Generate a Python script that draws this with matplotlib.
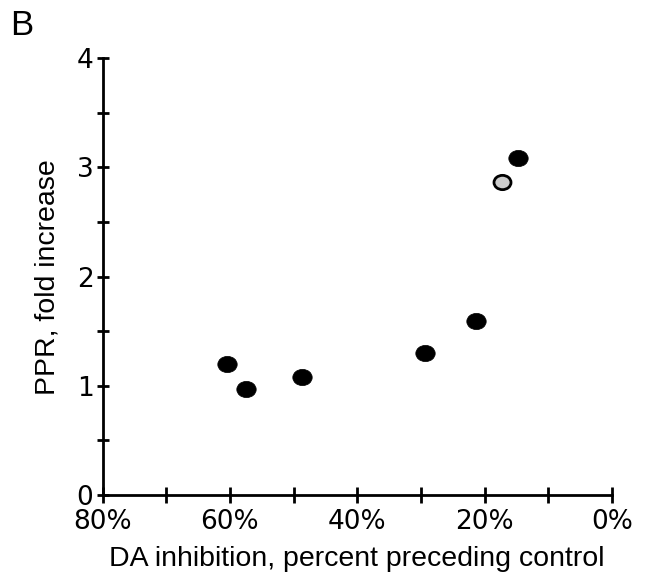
import matplotlib
matplotlib.use("Agg")
import matplotlib.pyplot as plt
from matplotlib.path import Path
from matplotlib.transforms import Affine2D
from matplotlib.ticker import MultipleLocator, FuncFormatter

# ----------------------------------------------------
# Data
# ----------------------------------------------------
da_inhibition = [60.4, 57.4, 48.6, 29.3, 21.3, 14.7]   # percent
ppr_fold = [1.20, 0.97, 1.08, 1.30, 1.59, 3.09]

gray_inhibition = [17.2]
gray_ppr = [2.87]

x_ticks = [80, 60, 40, 20, 0]
y_ticks = [0, 1, 2, 3, 4]

# ----------------------------------------------------
# Plot
# ----------------------------------------------------
fig = plt.figure(figsize=(6.53, 5.77), dpi=100)
ax = fig.add_axes([0.157, 0.142, 0.780, 0.757])

ellipse = Path.unit_circle().transformed(Affine2D().scale(1.0, 0.84))

ax.scatter(da_inhibition, ppr_fold, marker=ellipse, s=195,
           color="black", edgecolors="black", linewidths=0.5, zorder=3,
           clip_on=False)
ax.scatter(gray_inhibition, gray_ppr, marker=ellipse, s=150,
           color="#cccccc", edgecolors="black", linewidths=2.0, zorder=3,
           clip_on=False)

ax.set_xlim(80, 0)
ax.set_ylim(0, 4)

ax.set_xticks(x_ticks)
ax.xaxis.set_minor_locator(MultipleLocator(10))
ax.xaxis.set_major_formatter(FuncFormatter(lambda v, p: f"{v:.0f}%"))
ax.set_yticks(y_ticks)
ax.yaxis.set_minor_locator(MultipleLocator(0.5))

for side in ["top", "right"]:
    ax.spines[side].set_visible(False)
for side in ["left", "bottom"]:
    ax.spines[side].set_linewidth(2)

ax.tick_params(axis="x", which="both", direction="inout", length=12,
               width=2, labelsize=19, pad=4)
ax.tick_params(axis="y", which="both", direction="inout", length=9,
               width=2, labelsize=19, pad=2)
for lab in ax.get_xticklabels() + ax.get_yticklabels():
    lab.set_family("DejaVu Sans")

ax.set_xlabel("DA inhibition, percent preceding control",
              fontsize=20.5, family="Liberation Sans", labelpad=8)
ax.set_ylabel("PPR, fold increase",
              fontsize=20.5, family="Liberation Sans", labelpad=12)

fig.text(0.016, 0.94, "B", fontsize=25, family="Liberation Sans")

fig.savefig("out.png", dpi=100)
